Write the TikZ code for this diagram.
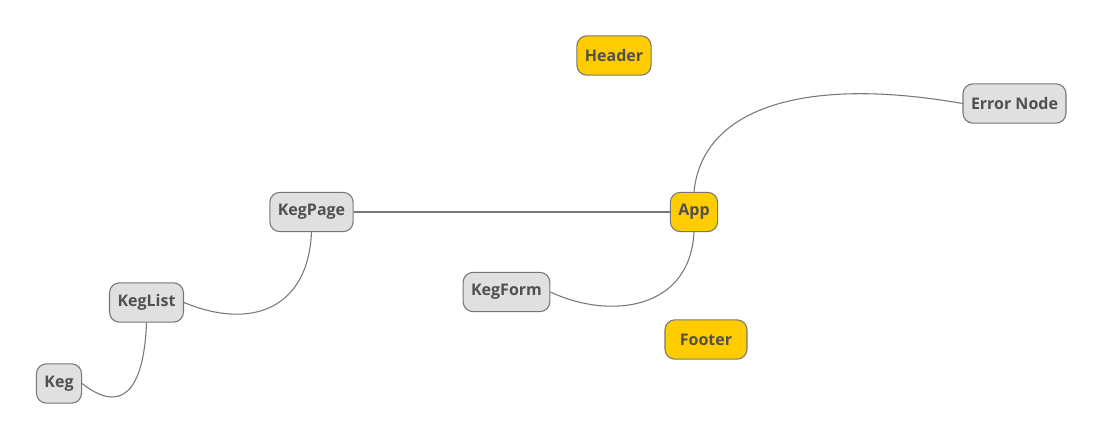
\documentclass[tikz,border=0pt]{standalone}
\usepackage{fontspec}
\setmainfont{Open Sans}
\usepackage{tikz}
\definecolor{topic}{HTML}{FFCC00}
\definecolor{leaf}{HTML}{E0E0E0}
\definecolor{rim}{HTML}{777777}
\definecolor{ink}{HTML}{505050}

\begin{document}
\begin{tikzpicture}[x=0.75pt,y=-0.75pt]
\tikzstyle{box}=[draw=rim,line width=0.8pt,rounded corners=7.5pt,minimum height=29.5pt,inner xsep=6pt,text=ink,font=\bfseries\fontsize{12}{14}\selectfont,fill=leaf];
\tikzstyle{main}=[box,fill=topic];
\tikzstyle{link}=[draw=rim,line width=0.8pt];
\useasboundingbox (0,0) rectangle (1104,442);
\node[main] (Header)at(614,55.5) {Header};
\node[box] (Err)at(1014.5,103.5) {Error Node};
\node[main] (App)at(694,212) {App};
\node[box] (KegPage)at(311.5,212) {KegPage};
\node[box] (KegForm)at(506.5,292) {KegForm};
\node[main,minimum width=61.5pt] (Footer)at(706,339.5) {Footer};
\node[box] (KegList)at(146.5,302.5) {KegList};
\node[box] (Keg)at(59,383.5) {Keg};
\draw[link](KegPage)--(App);
\draw[link](App.north) .. controls (702,110) and (800,75) .. (Err.west);
\draw[link](App.south) .. controls (690,310) and (610,320) .. (KegForm.east);
\draw[link](KegPage.south) .. controls (308,310) and (250,330) .. (KegList.east);
\draw[link](KegList.south) .. controls (144,390) and (122,415) .. (Keg.east);
\end{tikzpicture}
\end{document}
